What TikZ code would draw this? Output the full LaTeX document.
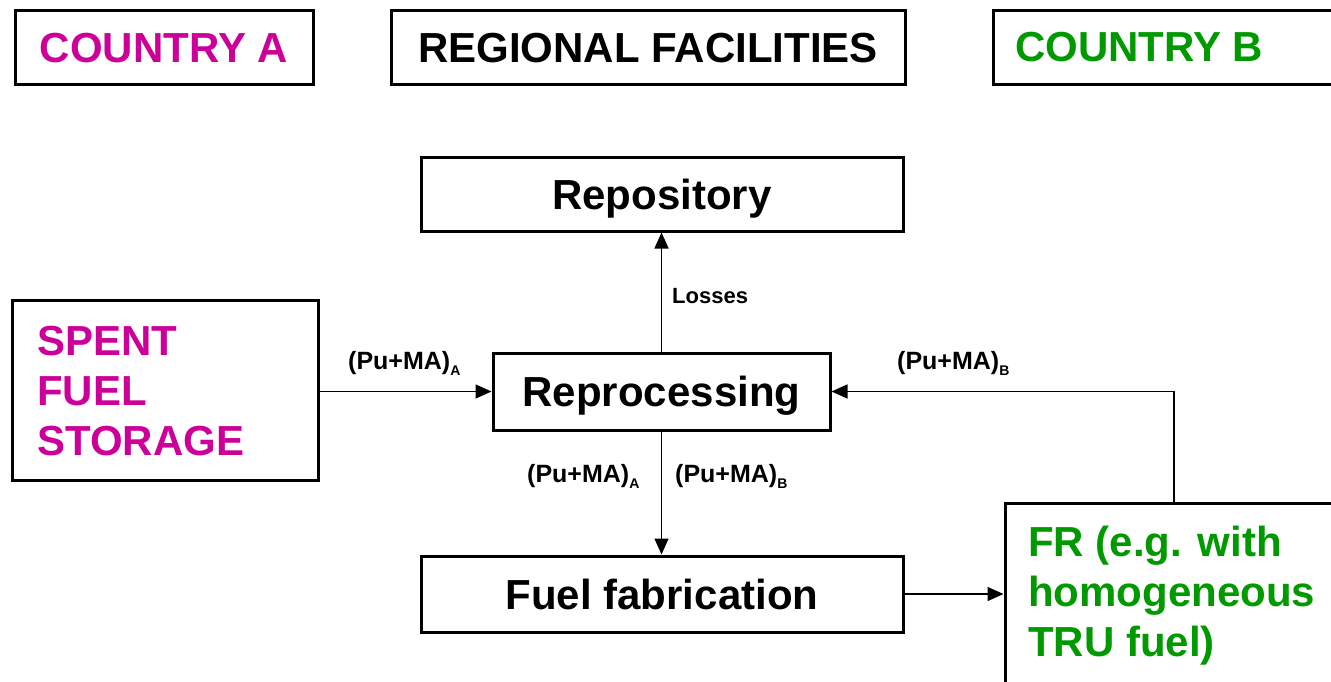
\documentclass[tikz,border=0pt]{standalone}
\usepackage{fontspec}
\setmainfont{Liberation Sans}
\usetikzlibrary{arrows.meta}
\definecolor{cmag}{HTML}{CC0099}
\definecolor{cgreen}{HTML}{009900}
\newcommand{\sbs}[1]{\raisebox{-6pt}{\fontsize{14}{14}\selectfont #1}}
\tikzset{
  box/.style={draw=black, line width=3pt, fill=white, inner sep=0pt, text height=30pt, text depth=0pt, font=\fontsize{42}{50}\selectfont\bfseries},
  big/.style={inner sep=0pt, font=\fontsize{42}{50}\selectfont\bfseries, align=left},
  lab/.style={inner sep=0pt, anchor=base west, font=\fontsize{25}{25}\selectfont\bfseries},
  arr/.style={line width=1.5pt, -{Triangle[length=16pt,width=14pt]}},
}
\begin{document}
\begin{tikzpicture}[x=1pt,y=-1pt]
\useasboundingbox (0,0) rectangle (1331,681);
\clip (0,0) rectangle (1331,681);
% header boxes
\node[box, minimum width=298pt, minimum height=74pt, text=cmag] (ca) at (164,47) {COUNTRY A};
\node[box, minimum width=514pt, minimum height=74pt] (rf) at (648,47) {REGIONAL FACILITIES};
\node[box, minimum width=352pt, minimum height=74pt] (cb) at (1169,47) {};
\node[big, anchor=west, text=cgreen] (cbt) at (1015,47) {COUNTRY B};
% main boxes
\node[box, minimum width=482pt, minimum height=74pt] (repo) at (662,194) {Repository};
\node[box, minimum width=337pt, minimum height=77pt] (reproc) at (661.5,391.5) {Reprocessing};
\node[box, minimum width=482pt, minimum height=76pt] (fab) at (662,594) {Fuel fabrication};
\node[box, minimum width=306pt, minimum height=180pt] (sf) at (165,390) {};
\node[big, anchor=west, text=cmag] (sft) at (37,391) {SPENT\\FUEL\\STORAGE};
\node[box, minimum width=338pt, minimum height=192pt] (fr) at (1174,599) {};
\node[big, anchor=west, text=cgreen] (frt) at (1028,596) {FR (e.g. with\\homogeneous\\TRU fuel)};
% connectors
\draw[arr] (sf.east |- reproc.west) -- (reproc.west);
\draw[arr] (reproc.north) -- (reproc.north |- repo.south);
\draw[arr] (reproc.south) -- (reproc.south |- fab.north);
\draw[arr] (fr.north) |- (reproc.east);
\draw[arr] (fab.east) -- (fab.east -| fr.west);
% labels
\node[lab] (l1) at (348,369) {(Pu+MA)\sbs{A}};
\node[lab] (l2) at (897,369) {(Pu+MA)\sbs{B}};
\node[lab] (l3) at (527,482) {(Pu+MA)\sbs{A}};
\node[lab] (l4) at (675,482) {(Pu+MA)\sbs{B}};
\node[lab, font=\fontsize{22}{22}\selectfont\bfseries] (l5) at (672,303) {Losses};
\end{tikzpicture}
\end{document}
